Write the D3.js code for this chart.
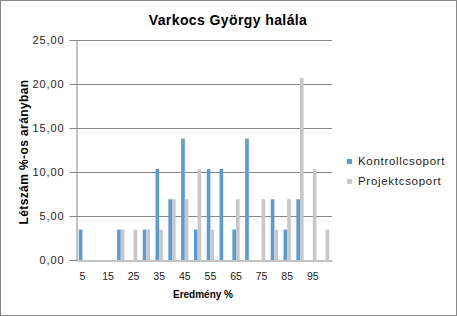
<!DOCTYPE html>
<meta charset="utf-8">
<style>
body { margin: 0; background: #fff; }
text { font-family: "Liberation Sans", Arial, sans-serif; }
</style>
<svg width="457" height="316"></svg>
<script src="https://d3js.org/d3.v7.min.js"></script>
<script>

// data
var categories = [5, 10, 15, 20, 25, 30, 35, 40, 45, 50, 55, 60, 65, 70, 75, 80, 85, 90, 95, 100];
var kontroll = [3.45, 0, 0, 3.45, 0, 3.45, 10.34, 6.90, 13.79, 3.45, 10.34, 10.34, 3.45, 13.79, 0, 6.90, 3.45, 6.90, 0, 0];
var projekt = [0, 0, 0, 3.45, 3.45, 3.45, 3.45, 6.90, 6.90, 10.34, 3.45, 0, 6.90, 0, 6.90, 3.45, 6.90, 20.69, 10.34, 3.45];
var seriesNames = ["Kontrollcsoport", "Projektcsoport"];
var colors = ["#5b9bd5", "#c8c8c8"];
var yTicks = [0, 5, 10, 15, 20, 25];

var svg = d3.select("svg"),
    width = +svg.attr("width"),
    height = +svg.attr("height");

svg.append("rect")
    .attr("x", 0.5).attr("y", 0.5)
    .attr("width", width - 1).attr("height", height - 1)
    .attr("fill", "#fff").attr("stroke", "#888");

var plotLeft = 76, plotRight = 332, plotTop = 40, plotBottom = 260;

var x = d3.scaleBand().domain(categories).range([plotLeft, plotRight]).paddingInner(0).paddingOuter(0);
var y = d3.scaleLinear().domain([0, 25]).range([plotBottom, plotTop]);

// gridlines
svg.append("g")
  .selectAll("line")
  .data(yTicks.slice(1))
  .enter().append("line")
    .attr("x1", plotLeft).attr("x2", plotRight)
    .attr("y1", function(d) { return Math.round(y(d)) + 0.5; })
    .attr("y2", function(d) { return Math.round(y(d)) + 0.5; })
    .attr("stroke", "#868686");

var barW = x.bandwidth() / 3.5;

var data = [kontroll, projekt];
data.forEach(function(vals, s) {
  svg.append("g")
    .selectAll("rect")
    .data(vals)
    .enter().append("rect")
      .attr("x", function(d, i) { return x(categories[i]) + barW * 0.75 + s * barW; })
      .attr("width", barW)
      .attr("y", function(d) { return y(d); })
      .attr("height", function(d) { return plotBottom - y(d); })
      .attr("fill", colors[s]);
});

// y axis
var yAxis = svg.append("g")
    .attr("transform", "translate(" + (plotLeft + 0.5) + ",0)")
    .call(d3.axisLeft(y).tickValues(yTicks).tickSize(7).tickPadding(5)
      .tickFormat(function(d) { return d3.format(".2f")(d).replace(".", ","); }));
yAxis.select(".domain").attr("stroke", "#868686");
yAxis.selectAll(".tick line").attr("stroke", "#868686");
yAxis.selectAll("text").attr("font-size", 11).attr("fill", "#222")
    .attr("letter-spacing", 0.9)
    .attr("font-family", "Liberation Sans, Arial, sans-serif");

// x axis
var xAxis = svg.append("g")
    .attr("transform", "translate(0," + (plotBottom + 0.5) + ")")
    .call(d3.axisBottom(x).tickSize(0).tickPadding(12)
      .tickFormat(function(d, i) { return i % 2 === 0 ? d : ""; }));
xAxis.select(".domain").attr("stroke", "#868686");
xAxis.selectAll("text").attr("font-size", 10.5).attr("fill", "#222")
    .attr("font-family", "Liberation Sans, Arial, sans-serif");

// title
svg.append("text")
    .attr("x", 228).attr("y", 25)
    .attr("text-anchor", "middle")
    .attr("font-size", 14).attr("font-weight", "bold")
    .attr("letter-spacing", 0.4)
    .text("Varkocs György halála");

svg.append("text")
    .attr("transform", "translate(28,152) rotate(-90)")
    .attr("text-anchor", "middle")
    .attr("font-size", 12).attr("font-weight", "bold")
    .attr("letter-spacing", 0.4)
    .text("Létszám %-os arányban");

svg.append("text")
    .attr("x", 203).attr("y", 298)
    .attr("text-anchor", "middle")
    .attr("font-size", 10).attr("font-weight", "bold")
    .attr("font-family", "'Open Sans', 'Noto Sans', sans-serif")
    .text("Eredmény %");

// legend
var legend = svg.append("g")
  .selectAll("g")
  .data(seriesNames)
  .enter().append("g")
    .attr("transform", function(d, i) { return "translate(347," + (159 + i * 20) + ")"; });

legend.append("rect")
    .attr("width", 5).attr("height", 5)
    .attr("fill", function(d, i) { return colors[i]; });
legend.append("text")
    .attr("x", 11).attr("y", 6)
    .attr("font-size", 11.5).attr("fill", "#222")
    .attr("letter-spacing", 0.7)
    .text(function(d) { return d; });
</script>
